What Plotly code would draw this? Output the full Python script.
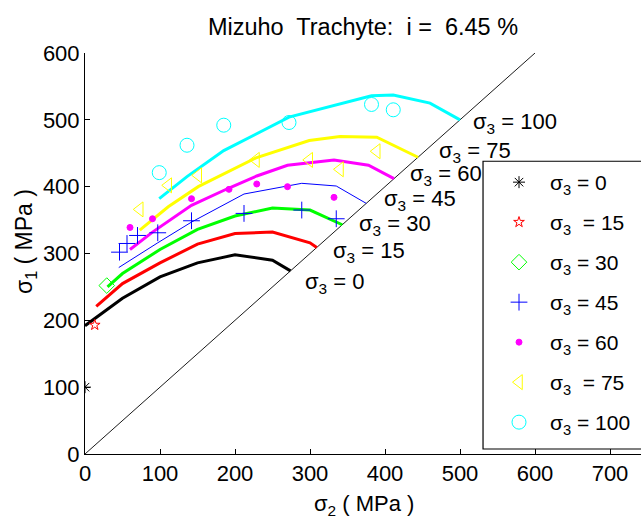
import plotly.graph_objects as go

# ---------------- data ----------------
sig3_levels = [0, 15, 30, 45, 60, 75, 100]
colors = ["#000000", "#FF0000", "#00FF00", "#0000FF", "#FF00FF", "#FFFF00", "#00FFFF"]

# experimental points (sigma2, sigma1)
exp_s2_0 = [0]
exp_s1_0 = [100]
exp_s2_15 = [13]
exp_s1_15 = [193]
exp_s2_30 = [29]
exp_s1_30 = [252]
exp_s2_45 = [46, 56, 70, 97, 142, 212, 289, 335]
exp_s1_45 = [302, 315, 327, 331, 349, 360, 365, 352]
exp_s2_60 = [60, 90, 142, 192, 229, 270, 332]
exp_s1_60 = [339, 352, 382, 396, 404, 400, 384]
exp_s2_75 = [73, 111, 151, 228, 299, 340, 389]
exp_s1_75 = [366, 402, 417, 440, 440, 426, 453]
exp_s2_100 = [99, 136, 185, 272, 382, 411]
exp_s1_100 = [421, 462, 492, 496, 523, 515]

# fitted criterion curves (sigma2, sigma1)
fit_s2_0 = [0, 50, 100, 150, 200, 250, 274]
fit_s1_0 = [192, 233, 265, 286, 298, 290, 274]
fit_s2_15 = [15, 50, 100, 150, 200, 250, 300, 309]
fit_s1_15 = [221, 255, 286, 314, 330, 332, 316, 309]
fit_s2_30 = [30, 50, 100, 150, 200, 250, 300, 343]
fit_s1_30 = [250, 270, 306, 336, 356, 368, 365, 343]
fit_s2_45 = [45, 56, 70, 97, 142, 212, 289, 335, 375]
fit_s1_45 = [279, 287, 297, 316, 347, 389, 405, 401, 375]
fit_s2_60 = [60, 90, 142, 192, 229, 270, 332, 378, 412]
fit_s1_60 = [306, 332, 372, 398, 416, 432, 440, 432, 412]
fit_s2_75 = [73, 111, 151, 228, 299, 340, 389, 444]
fit_s1_75 = [335, 370, 400, 443, 469, 475, 474, 444]
fit_s2_100 = [99, 136, 185, 272, 382, 411, 460, 500]
fit_s1_100 = [382, 415, 454, 504, 536, 537, 525, 500]

diag_line = [0, 600]

legend_labels = ["σ<sub>3</sub> = 0", "σ<sub>3</sub>\u00a0 = 15", "σ<sub>3</sub> = 30",
                 "σ<sub>3</sub> = 45", "σ<sub>3</sub> = 60", "σ<sub>3</sub>\u00a0 = 75",
                 "σ<sub>3</sub> = 100"]
curve_labels = ["σ<sub>3</sub> = 0", "σ<sub>3</sub> = 15", "σ<sub>3</sub> = 30",
                "σ<sub>3</sub> = 45", "σ<sub>3</sub> = 60", "σ<sub>3</sub> = 75",
                "σ<sub>3</sub> = 100"]
curve_label_x = [291, 328, 363, 396, 431, 469, 515]
curve_label_y = [256, 302, 343, 380, 417, 452, 496]

exp_s2 = [exp_s2_0, exp_s2_15, exp_s2_30, exp_s2_45, exp_s2_60, exp_s2_75, exp_s2_100]
exp_s1 = [exp_s1_0, exp_s1_15, exp_s1_30, exp_s1_45, exp_s1_60, exp_s1_75, exp_s1_100]
fit_s2 = [fit_s2_0, fit_s2_15, fit_s2_30, fit_s2_45, fit_s2_60, fit_s2_75, fit_s2_100]
fit_s1 = [fit_s1_0, fit_s1_15, fit_s1_30, fit_s1_45, fit_s1_60, fit_s1_75, fit_s1_100]

symbols = ["asterisk-open", "star-open", "diamond-open", "cross-thin-open",
           "circle", "triangle-left-open", "circle-open"]
msizes = [10, 8, 12, 12, 6, 13, 14]
line_widths = [3, 3, 3, 1, 3, 3, 3]

FONT = "Liberation Sans, Arial, sans-serif"

fig = go.Figure()

# diagonal sigma1 = sigma2
fig.add_trace(go.Scatter(x=diag_line, y=diag_line, mode="lines",
                         line=dict(color="black", width=0.9), showlegend=False,
                         hoverinfo="skip"))

for i in range(len(sig3_levels)):
    fig.add_trace(go.Scatter(x=fit_s2[i], y=fit_s1[i], mode="lines",
                             line=dict(color=colors[i], width=line_widths[i]),
                             showlegend=False, hoverinfo="skip"))

for i in range(len(sig3_levels)):
    fig.add_trace(go.Scatter(x=exp_s2[i], y=exp_s1[i], mode="markers",
                             name=legend_labels[i], legendgroup="g%d" % i,
                             marker=dict(symbol=symbols[i], size=msizes[i],
                                         color=colors[i],
                                         line=dict(color=colors[i], width=1))))

for i in range(len(sig3_levels)):
    fig.add_annotation(x=curve_label_x[i], y=curve_label_y[i], text=curve_labels[i],
                       showarrow=False, xanchor="left", yanchor="middle",
                       font=dict(family=FONT, size=22, color="black"))

# legend box (right border outside the visible figure)
fig.add_shape(type="rect", xref="x", yref="y", x0=530.7, x1=800, y0=7.5, y1=438,
              line=dict(color="black", width=1.2), fillcolor="white", layer="above")

# axis titles
fig.add_annotation(xref="paper", yref="paper", x=0.502, y=-0.127,
                   text="σ<sub>2</sub> ( MPa )", showarrow=False,
                   xanchor="center", yanchor="middle",
                   font=dict(family=FONT, size=22, color="black"))
fig.add_annotation(xref="paper", yref="paper", x=-0.107, y=0.53,
                   text="σ<sub>1</sub> ( MPa )", showarrow=False, textangle=-90,
                   xanchor="center", yanchor="middle",
                   font=dict(family=FONT, size=23, color="black"))

fig.update_layout(
    width=641, height=518,
    margin=dict(l=85, r=0, t=53, b=64),
    paper_bgcolor="white", plot_bgcolor="white",
    font=dict(family=FONT, size=22, color="black"),
    title=dict(text="Mizuho\u00a0 Trachyte:\u00a0 i =\u00a0 6.45 %", x=0.5, xref="paper",
               xanchor="center", y=1 - 27 / 518, yref="container", yanchor="middle",
               font=dict(family=FONT, size=23.5, color="black")),
    showlegend=True,
    legend=dict(x=(488 - 85) / 556, xanchor="left", y=(454 - 162) / 401, yanchor="top",
                bgcolor="rgba(0,0,0,0)", borderwidth=0, itemwidth=52,
                tracegroupgap=9.7, font=dict(family=FONT, size=21, color="black")),
    xaxis=dict(range=[0, (641 - 85) / 0.75], tickvals=[0, 100, 200, 300, 400, 500, 600, 700],
               ticks="inside", ticklen=5, tickcolor="black", showline=True, linecolor="black",
               linewidth=1, showgrid=False, zeroline=False,
               tickfont=dict(family=FONT, size=22, color="black")),
    yaxis=dict(range=[0, 600], tickvals=[0, 100, 200, 300, 400, 500, 600],
               ticks="inside", ticklen=5, tickcolor="black", showline=True, linecolor="black",
               linewidth=1, showgrid=False, zeroline=False,
               tickfont=dict(family=FONT, size=22, color="black")),
)

fig.write_html("out.html")
